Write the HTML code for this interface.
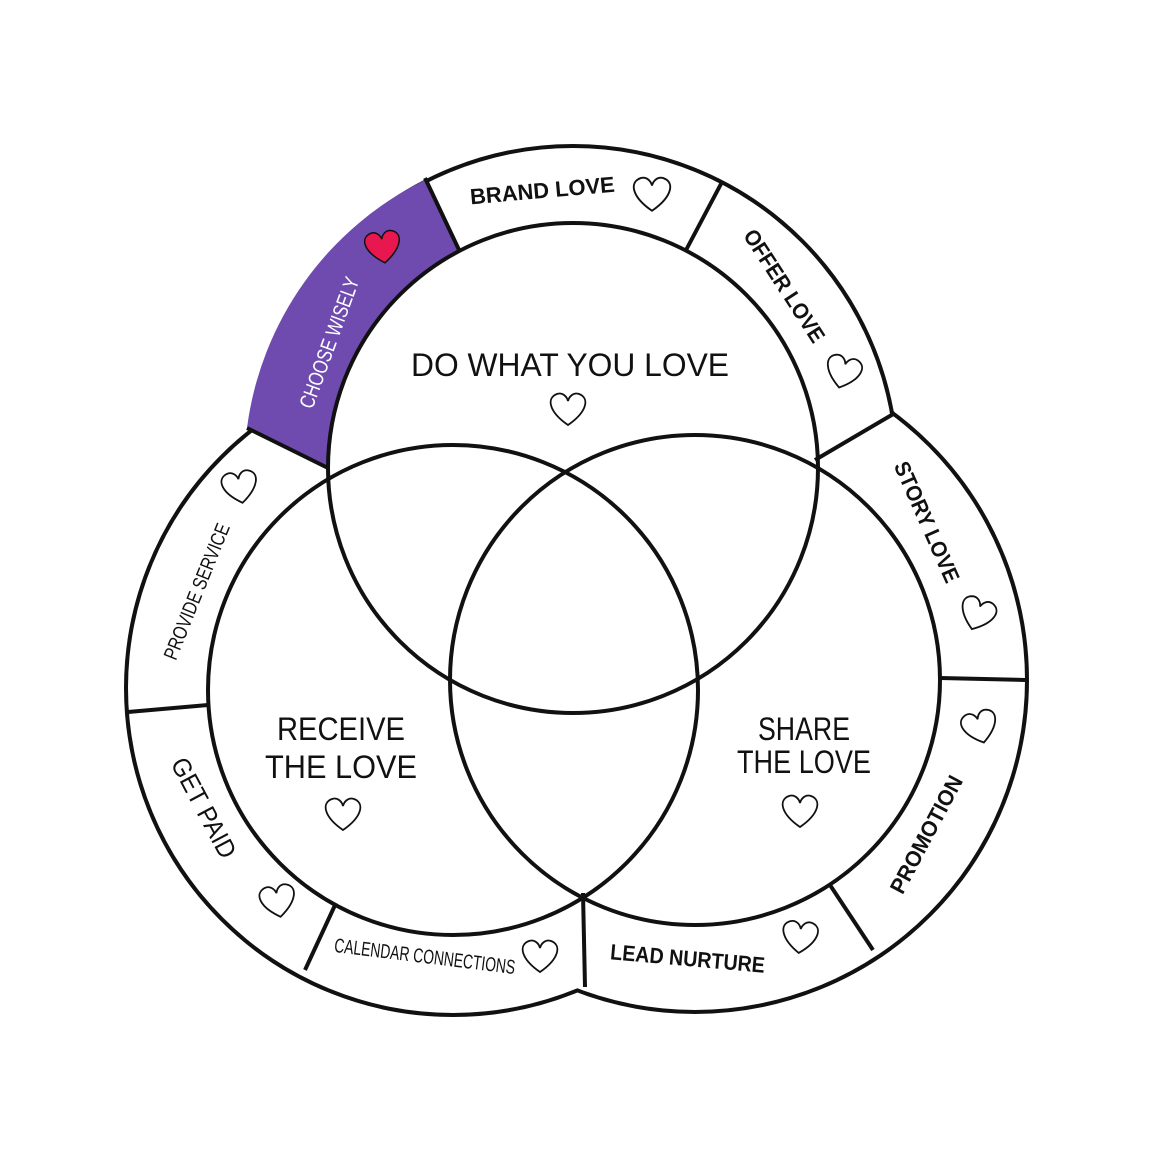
<!DOCTYPE html>
<html><head><meta charset="utf-8"><style>
html,body{margin:0;padding:0;background:#fff;}
svg{display:block;}
text{font-family:"Liberation Sans Narrow","Liberation Sans",sans-serif;fill:#111;}
</style></head><body>
<svg width="1152" height="1152" viewBox="0 0 1152 1152" xmlns="http://www.w3.org/2000/svg">
<defs>
<path id="h" d="M0,15 C-19,2 -22,-12 -11,-16 C-5,-18 -1,-13 0,-9 C1,-13 5,-18 11,-16 C22,-12 19,2 0,15 Z"/>
</defs>
<g stroke="#111" stroke-width="8" fill="#fff">
<circle cx="573" cy="470" r="322"/>
<circle cx="453" cy="688" r="325"/>
<circle cx="695" cy="680" r="330"/>
</g>
<g fill="#fff">
<circle cx="573" cy="470" r="322"/>
<circle cx="453" cy="688" r="325"/>
<circle cx="695" cy="680" r="330"/>
</g>
<path d="M425,180 A322,322 0 0 0 247,428 L328,468 A245,245 0 0 1 460,252 Z" fill="#6f4bb0"/>
<g stroke="#111" stroke-width="4">
<line x1="425" y1="178" x2="460" y2="252"/>
<line x1="722" y1="182" x2="685" y2="252"/>
<line x1="895" y1="413" x2="815" y2="460"/>
<line x1="1025" y1="680" x2="940" y2="678"/>
<line x1="873" y1="950" x2="830" y2="885"/>
<line x1="583" y1="893" x2="585" y2="987"/>
<line x1="336" y1="903" x2="305" y2="970"/>
<line x1="128" y1="712" x2="208" y2="705"/>
<line x1="247" y1="428" x2="328" y2="468"/>
</g>
<g stroke="#111" stroke-width="4" fill="none">
<circle cx="573" cy="468" r="245"/>
<circle cx="453" cy="690" r="245"/>
<circle cx="695" cy="680" r="245"/>
</g>
<g font-size="22" font-weight="bold" text-anchor="middle" lengthAdjust="spacingAndGlyphs">
<text transform="translate(543,198) rotate(-5)" textLength="145" lengthAdjust="spacingAndGlyphs">BRAND LOVE</text>
<text transform="translate(778,290) rotate(57)" textLength="130" lengthAdjust="spacingAndGlyphs">OFFER LOVE</text>
<text transform="translate(920,525) rotate(66)" textLength="130" lengthAdjust="spacingAndGlyphs">STORY LOVE</text>
<text transform="translate(933,838) rotate(-62)" textLength="130" lengthAdjust="spacingAndGlyphs">PROMOTION</text>
<text transform="translate(687,966) rotate(5)" textLength="155" lengthAdjust="spacingAndGlyphs">LEAD NURTURE</text>
<text transform="translate(424,963) rotate(7)" font-size="20" font-weight="normal" textLength="182" lengthAdjust="spacingAndGlyphs">CALENDAR CONNECTIONS</text>
<text transform="translate(196,812) rotate(62)" font-size="26" font-weight="normal" textLength="110" lengthAdjust="spacingAndGlyphs">GET  PAID</text>
<text transform="translate(203,594) rotate(-68)" font-size="20" font-weight="normal" textLength="145" lengthAdjust="spacingAndGlyphs">PROVIDE SERVICE</text>
<text transform="translate(336,345) rotate(-70)" font-size="21" font-weight="normal" textLength="138" lengthAdjust="spacingAndGlyphs" style="fill:#fff">CHOOSE WISELY</text>
</g>
<g font-size="32" text-anchor="middle">
<text x="570" y="376" textLength="318" lengthAdjust="spacingAndGlyphs">DO WHAT YOU LOVE</text>
<text x="341" y="740" textLength="128" lengthAdjust="spacingAndGlyphs">RECEIVE</text>
<text x="341" y="778" textLength="152" lengthAdjust="spacingAndGlyphs">THE LOVE</text>
<text x="804" y="740" textLength="92" lengthAdjust="spacingAndGlyphs">SHARE</text>
<text x="804" y="773" textLength="134" lengthAdjust="spacingAndGlyphs">THE LOVE</text>
</g>
<g fill="none" stroke="#111" stroke-width="1.8">
<use href="#h" transform="translate(652,195) scale(1.05)"/>
<use href="#h" transform="translate(843,373) rotate(15)"/>
<use href="#h" transform="translate(977,615) rotate(20)"/>
<use href="#h" transform="translate(980,728) rotate(-15)"/>
<use href="#h" transform="translate(800,938) rotate(5)"/>
<use href="#h" transform="translate(540,957)"/>
<use href="#h" transform="translate(278,902) rotate(-10)"/>
<use href="#h" transform="translate(240,488) rotate(-10)"/>
<use href="#h" transform="translate(568,410)"/>
<use href="#h" transform="translate(343,815)"/>
<use href="#h" transform="translate(800,812)"/>
</g>
<use href="#h" transform="translate(383,248) rotate(-8)" fill="#e8174f" stroke="#111" stroke-width="1.5"/>
</svg>
</body></html>
